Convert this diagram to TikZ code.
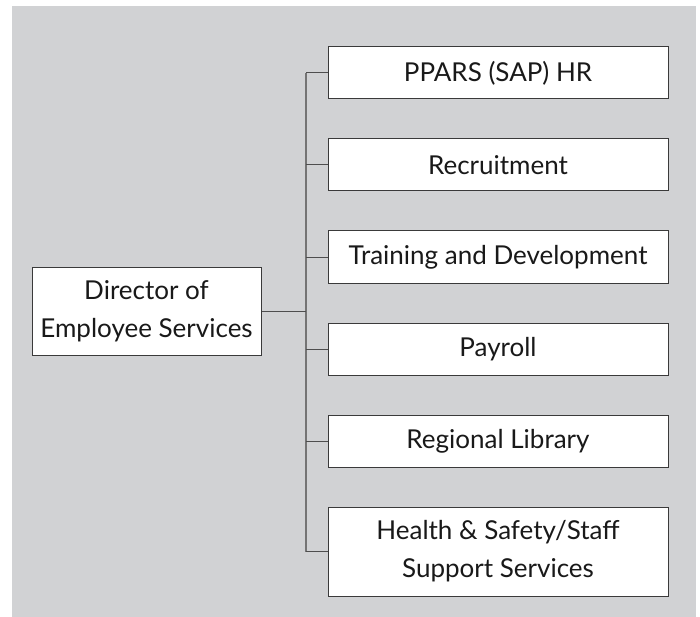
\documentclass[tikz,border=0pt]{standalone}
\usepackage{fontspec}
\setmainfont{Lato}
\usepackage{xcolor}
\usepackage{tikz}
\usetikzlibrary{positioning}
\definecolor{panelgray}{HTML}{D1D2D4}
\definecolor{boxline}{HTML}{3A3A3A}
\definecolor{spinegray}{HTML}{747474}
\tikzset{
    orgnode/.style = {align=center, inner sep=0pt, text centered, rectangle, fill=white, draw=boxline, line width=1pt, text=black!90, font=\fontsize{26}{38}\selectfont},
    dir_node/.style = {orgnode, minimum width=229pt, minimum height=88pt},
    unit_node/.style = {orgnode, minimum width=340pt, minimum height=52pt},
    tall_node/.style = {unit_node, minimum height=89pt},
    feeder/.style = {draw=boxline!90, line width=1pt},
    spine/.style = {draw=spinegray, line width=1.6pt}
}

\begin{document}
\begin{tikzpicture}[x=1pt, y=1pt]
    \useasboundingbox (0,0) rectangle (700,-617);
    \fill[panelgray] (12,-6) rectangle (696,-617);

    \node [dir_node] (director) at (146.5,-311) {Director of\\Employee Services};

    \node [unit_node] (ppars) at (498,-73) {PPARS (SAP) HR};
    \node [unit_node, below=39pt of ppars] (recruit) {Recruitment};
    \node [unit_node, below=39pt of recruit] (training) {Training and Development};
    \node [unit_node, below=39pt of training] (payroll) {Payroll};
    \node [unit_node, below=39pt of payroll] (library) {Regional Library};
    \node [tall_node, below=39pt of library] (health) {Health \& Safety/Staff\\Support Services};

    % bus line between director and units
    \coordinate (bus) at (306,-311);
    \draw [spine] (ppars.west -| bus) -- (health.west -| bus);
    \draw [feeder] (director.east) -- (bus);
    \foreach \unit in {ppars, recruit, training, payroll, library, health}
        \draw [feeder] (\unit.west -| bus) -- (\unit.west);
\end{tikzpicture}
\end{document}
